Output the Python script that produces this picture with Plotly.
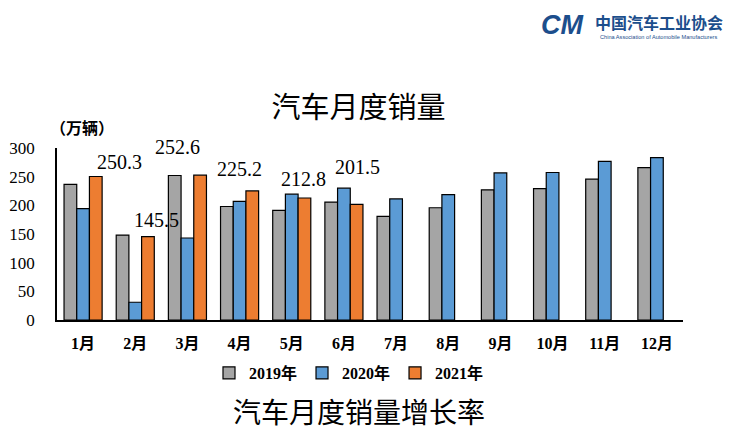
import plotly.graph_objects as go

months = ["1月", "2月", "3月", "4月", "5月", "6月", "7月", "8月", "9月", "10月", "11月", "12月"]
sales_2019 = [236.7, 148.2, 252.0, 198.0, 191.3, 205.6, 180.8, 195.8, 227.1, 229.1, 245.6, 265.6]
sales_2020 = [194.1, 31.0, 143.0, 207.0, 219.4, 230.0, 211.2, 218.6, 256.5, 257.3, 276.5, 283.1]
sales_2021 = [250.3, 145.5, 252.6, 225.2, 212.8, 201.5, None, None, None, None, None, None]
y_ticks = [0, 50, 100, 150, 200, 250, 300]

# label offsets (pixels) for the 2021 value labels
label_dx = [36, 21, -10, 0, 12, 14]
label_dy = [14, 17, 28, 22, 19, 37]

W, H = 729, 431
L, R, T, B = 57, 46, 148, 111
pw, ph = W - L - R, H - T - B


def px(x):
    return (x - L) / pw


def py(y):
    return (H - B - y) / ph


serif = "Liberation Serif, Noto Sans CJK SC"
cjk = "Noto Sans CJK SC"


def note(x, y, text, font):
    fig.add_annotation(x=px(x), y=py(y), xref="paper", yref="paper", text=text,
                       showarrow=False, xanchor="center", yanchor="middle", font=font)


fig = go.Figure()
for name, vals, col in [("2019年", sales_2019, "#A5A5A5"),
                        ("2020年", sales_2020, "#5B9BD5"),
                        ("2021年", sales_2021, "#ED7D31")]:
    fig.add_trace(go.Bar(x=months, y=vals, name=name,
                         marker=dict(color=col, line=dict(color="black", width=1.2))))

for m, v, dx, dy in zip(months, sales_2021, label_dx, label_dy):
    if v is None:
        continue
    fig.add_annotation(x=m, y=v, xref="x", yref="y", text=f"{v:.1f}", showarrow=False,
                       xshift=dx, yshift=dy, xanchor="center", yanchor="middle",
                       font=dict(family=serif, size=20, color="black"))

note(82, 127, "（万辆）", dict(family=cjk, size=16, color="black", weight="bold"))
note(358.5, 411, "汽车月度销量增长率", dict(family=cjk, size=28, color="black"))
# logo
note(562, 25, "<b><i>CM</i></b>", dict(family="Liberation Sans", size=27, color="#1C4E8C"))
note(658.5, 22, "中国汽车工业协会", dict(family=cjk, size=16, color="#1C4E8C", weight="bold"))
note(658.5, 37, "China Association of Automobile Manufacturers",
     dict(family="Liberation Sans", size=5.6, color="#1C4E8C"))

fig.update_layout(
    width=W, height=H,
    margin=dict(l=L, r=R, t=T, b=B, autoexpand=False),
    paper_bgcolor="white", plot_bgcolor="white",
    barmode="group", bargap=0.27, bargroupgap=0,
    title=dict(text="汽车月度销量", x=358.5 / W, xanchor="center", xref="container",
               y=1 - 108 / H, yanchor="middle", yref="container",
               font=dict(family=cjk, size=29, color="black")),
    legend=dict(orientation="h", x=px(349), xanchor="center", y=py(373), yanchor="middle",
                font=dict(family=serif, size=16, color="black", weight="bold"),
                itemwidth=30, traceorder="normal"),
    xaxis=dict(showline=True, linecolor="black", linewidth=1.5, showgrid=False,
               ticks="", ticklabelstandoff=8, automargin=False,
               tickfont=dict(family=serif, size=16, color="black", weight="bold")),
    yaxis=dict(range=[0, 300], tickvals=y_ticks, showline=True, linecolor="black", linewidth=1.5,
               showgrid=False, zeroline=False, ticks="", ticklabelstandoff=17, automargin=False,
               tickfont=dict(family=serif, size=17, color="black")),
)

fig.write_html("out.html")
